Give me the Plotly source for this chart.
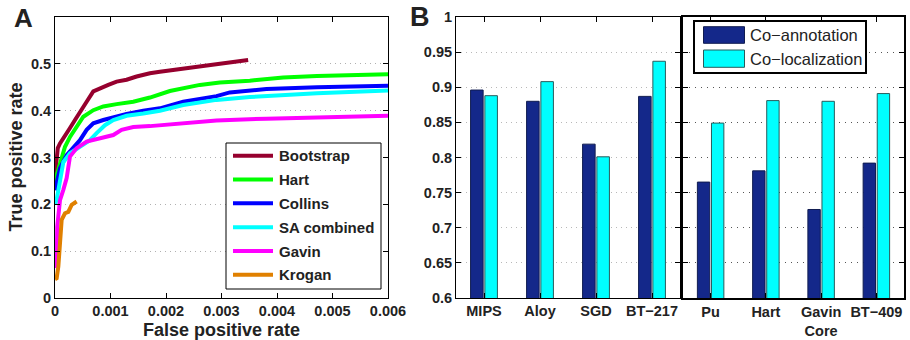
import plotly.graph_objects as go

# ---------------- Panel A data (ROC curves) ----------------
boot_fpr = [0, 0.00002, 0.00005, 0.00009, 0.00012, 0.00018, 0.00027, 0.00036, 0.00045, 0.00057, 0.00069,
            0.00081, 0.00096, 0.00111, 0.00129, 0.00147, 0.00171, 0.00189, 0.00231, 0.00291, 0.00321, 0.00348]
boot_tpr = [0.26, 0.29, 0.32, 0.33, 0.335, 0.348, 0.363, 0.380, 0.398, 0.419, 0.441,
            0.448, 0.455, 0.462, 0.466, 0.473, 0.480, 0.483, 0.490, 0.500, 0.505, 0.508]

hart_fpr = [0, 0.00003, 0.00009, 0.00018, 0.00027, 0.00039, 0.00051, 0.00069, 0.00087, 0.00111, 0.00141,
            0.00171, 0.00207, 0.00261, 0.00297, 0.00351, 0.00411, 0.00472, 0.00532, 0.006]
hart_tpr = [0.25, 0.262, 0.280, 0.323, 0.344, 0.366, 0.387, 0.401, 0.409, 0.414, 0.419,
            0.428, 0.442, 0.455, 0.460, 0.464, 0.471, 0.474, 0.476, 0.478]

collins_fpr = [0, 0.00003, 0.00009, 0.00021, 0.00033, 0.00045, 0.00057, 0.00069, 0.00087, 0.00105, 0.00129,
               0.00159, 0.00189, 0.00231, 0.00291, 0.00315, 0.00381, 0.00472, 0.006]
collins_tpr = [0.23, 0.248, 0.277, 0.305, 0.320, 0.337, 0.359, 0.373, 0.380, 0.386, 0.393,
               0.400, 0.405, 0.419, 0.431, 0.439, 0.446, 0.450, 0.453]

sa_fpr = [0, 0.00003, 0.00006, 0.0001, 0.00015, 0.00027, 0.00045, 0.00063, 0.00075, 0.0009, 0.00105,
          0.00129, 0.00159, 0.00189, 0.00231, 0.00291, 0.00351, 0.00411, 0.00472, 0.006]
sa_tpr = [0.20, 0.21, 0.23, 0.26, 0.29, 0.309, 0.323, 0.337, 0.352, 0.369, 0.380,
          0.389, 0.394, 0.400, 0.412, 0.423, 0.429, 0.433, 0.437, 0.443]

gavin_fpr = [0, 0.00003, 0.00004, 0.00009, 0.00015, 0.00021, 0.00027, 0.00039, 0.00057, 0.00081, 0.00105,
             0.0012, 0.00141, 0.00171, 0.00231, 0.00291, 0.00381, 0.00472, 0.006]
gavin_tpr = [0.07, 0.067, 0.152, 0.209, 0.231, 0.256, 0.302, 0.320, 0.334, 0.341, 0.348,
             0.359, 0.365, 0.367, 0.373, 0.379, 0.383, 0.385, 0.389]

krogan_fpr = [0, 0.00003, 0.00006, 0.00008, 0.00009, 0.00012, 0.00018, 0.00024, 0.0003, 0.00039]
krogan_tpr = [0.04, 0.042, 0.067, 0.102, 0.145, 0.167, 0.181, 0.184, 0.199, 0.206]

roc_names = ["Bootstrap", "Hart", "Collins", "SA combined", "Gavin", "Krogan"]
roc_colors = ["#96002e", "#00ff00", "#0000ff", "#00ffff", "#ff00ff", "#e08000"]
roc_data = [(boot_fpr, boot_tpr), (hart_fpr, hart_tpr), (collins_fpr, collins_tpr),
            (sa_fpr, sa_tpr), (gavin_fpr, gavin_tpr), (krogan_fpr, krogan_tpr)]

a_xticks = [0, 0.001, 0.002, 0.003, 0.004, 0.005, 0.006]
a_xtext = ["0", "0.001", "0.002", "0.003", "0.004", "0.005", "0.006"]
a_yticks = [0, 0.1, 0.2, 0.3, 0.4, 0.5]
a_ytext = ["0", "0.1", "0.2", "0.3", "0.4", "0.5"]

# ---------------- Panel B data (bars) ----------------
b1_cats = ["MIPS", "Aloy", "SGD", "BT\u2212217"]
b1_coann = [0.896, 0.880, 0.819, 0.887]
b1_coloc = [0.888, 0.908, 0.801, 0.937]

b2_cats = ["Pu", "Hart", "Gavin<br>Core", "BT\u2212409"]
b2_coann = [0.765, 0.781, 0.726, 0.792]
b2_coloc = [0.849, 0.881, 0.880, 0.891]

b_yticks = [0.6, 0.65, 0.7, 0.75, 0.8, 0.85, 0.9, 0.95, 1.0]
b_ytext = ["0.6", "0.65", "0.7", "0.75", "0.8", "0.85", "0.9", "0.95", "1"]
bar_names = ["Co\u2212annotation", "Co\u2212localization"]
bar_colors = ["#14288a", "#00ffff"]
bar_edges = ["#101c50", "#2a5c5c"]

W, H = 910, 340
def px(x):
    return x / W
def py(y):
    return 1 - y / H

FONT = "Liberation Sans"
TXT = "#222222"
tickfont = dict(family=FONT, size=14.5, color=TXT, weight="bold")

fig = go.Figure()

for (fx, ty), name, col in zip(roc_data, roc_names, roc_colors):
    fig.add_trace(go.Scatter(x=fx, y=ty, mode="lines", name=name,
                             line=dict(color=col, width=4), xaxis="x", yaxis="y",
                             showlegend=False))

pos = [1, 2, 3, 4]
for vals, name, col, edge in zip([b1_coann, b1_coloc], bar_names, bar_colors, bar_edges):
    fig.add_trace(go.Bar(x=pos, y=vals, name=name, marker=dict(color=col, line=dict(color=edge, width=1)),
                         xaxis="x2", yaxis="y2", showlegend=False))
for vals, name, col, edge in zip([b2_coann, b2_coloc], bar_names, bar_colors, bar_edges):
    fig.add_trace(go.Bar(x=pos, y=vals, name=name, marker=dict(color=col, line=dict(color=edge, width=1)),
                         xaxis="x3", yaxis="y3", showlegend=False))

ydom = [py(298), py(17)]
common = dict(showline=True, linecolor="black", mirror="ticks", ticks="inside", ticklen=5,
              tickcolor="black", zeroline=False, automargin=False, tickfont=tickfont)

layout = dict(
    width=W, height=H, margin=dict(l=0, r=0, t=0, b=0),
    paper_bgcolor="white", plot_bgcolor="white",
    barmode="group", bargap=0.49, bargroupgap=0.12,
    xaxis=dict(domain=[px(55), px(388)], range=[0, 0.006], tickvals=a_xticks, ticktext=a_xtext,
               showgrid=False, anchor="y", linewidth=1, **common),
    yaxis=dict(domain=ydom, range=[0, 0.6], tickvals=a_yticks, ticktext=a_ytext,
               showgrid=True, gridcolor="#b0b0b0", griddash="1px,4px", gridwidth=1,
               anchor="x", linewidth=1, **common),
    xaxis2=dict(domain=[px(456), px(680)], range=[0.5, 4.5], tickvals=pos, ticktext=b1_cats,
                showgrid=False, anchor="y2", linewidth=1, **common),
    yaxis2=dict(domain=ydom, range=[0.6, 1.0], tickvals=b_yticks, ticktext=b_ytext,
                showgrid=True, gridcolor="#b8b8b8", griddash="1px,4px", gridwidth=1,
                anchor="x2", linewidth=1, **common),
    xaxis3=dict(domain=[px(683), px(904)], range=[0.5, 4.5], tickvals=pos, ticktext=b2_cats,
                showgrid=False, anchor="y3", linewidth=2, **common),
    yaxis3=dict(domain=ydom, range=[0.6, 1.0], tickvals=b_yticks, showticklabels=False,
                showgrid=True, gridcolor="#555555", griddash="1px,5px", gridwidth=1,
                anchor="x3", linewidth=2, **common),
)
fig.update_layout(**layout)

shapes = []
annotations = []

# Panel A legend
shapes.append(dict(type="rect", xref="paper", yref="paper", x0=px(226), x1=px(381), y0=py(289), y1=py(143),
                   line=dict(color="black", width=1), fillcolor="white", layer="above"))
leg_y = [155.7, 179.5, 203.3, 227.2, 251.0, 274.8]
for name, col, yy in zip(roc_names, roc_colors, leg_y):
    shapes.append(dict(type="line", xref="paper", yref="paper", x0=px(233), x1=px(273), y0=py(yy), y1=py(yy),
                       line=dict(color=col, width=4), layer="above"))
    annotations.append(dict(text=name, x=px(277), y=py(yy), xref="paper", yref="paper", xanchor="left",
                            yanchor="middle", showarrow=False,
                            font=dict(family=FONT, size=15, color=TXT, weight="bold")))

# Panel B legend
shapes.append(dict(type="rect", xref="paper", yref="paper", x0=px(694), x1=px(866), y0=py(73), y1=py(21),
                   line=dict(color="black", width=2), fillcolor="white", layer="above"))
for name, col, edge, y0, y1 in zip(bar_names, bar_colors, bar_edges, [26.7, 50], [43.3, 67.3]):
    shapes.append(dict(type="rect", xref="paper", yref="paper", x0=px(703.5), x1=px(744.5), y0=py(y1), y1=py(y0),
                       line=dict(color=edge, width=1), fillcolor=col, layer="above"))
    annotations.append(dict(text=name, x=px(748), y=py((y0 + y1) / 2), xref="paper", yref="paper",
                            xanchor="left", yanchor="middle", showarrow=False,
                            font=dict(family=FONT, size=16.5, color=TXT)))

# Axis titles and panel letters
annotations.append(dict(text="False positive rate", x=px(221.5), y=py(330), xref="paper", yref="paper",
                        xanchor="center", yanchor="middle", showarrow=False,
                        font=dict(family=FONT, size=18, color=TXT, weight="bold")))
annotations.append(dict(text="True positive rate", x=px(15), y=py(157.5), xref="paper", yref="paper",
                        xanchor="center", yanchor="middle", showarrow=False, textangle=-90,
                        font=dict(family=FONT, size=18, color=TXT, weight="bold")))
annotations.append(dict(text="A", x=px(23), y=py(18), xref="paper", yref="paper",
                        xanchor="center", yanchor="middle", showarrow=False,
                        font=dict(family=FONT, size=26, color=TXT, weight="bold")))
annotations.append(dict(text="B", x=px(420), y=py(17), xref="paper", yref="paper",
                        xanchor="center", yanchor="middle", showarrow=False,
                        font=dict(family=FONT, size=27, color=TXT, weight="bold")))

fig.update_layout(shapes=shapes, annotations=annotations)
fig.write_html("out.html", config={"displayModeBar": False},
               post_script="document.body.style.margin='0';document.body.style.overflow='hidden';")
